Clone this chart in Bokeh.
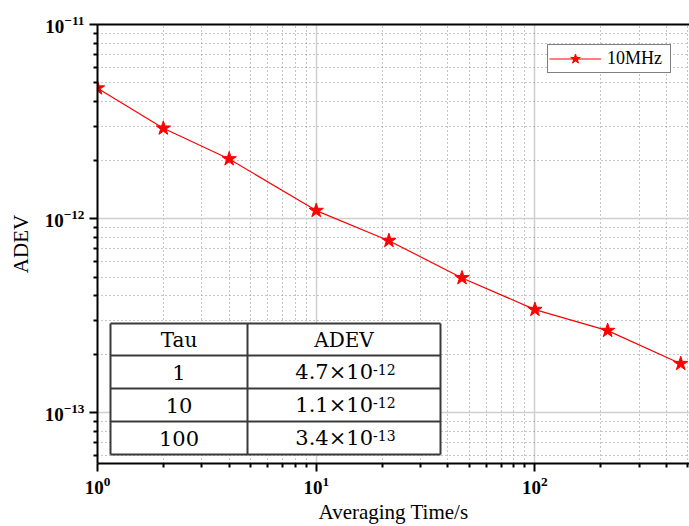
import numpy as np
from bokeh.plotting import figure
from bokeh.models import FixedTicker, LogAxis, Legend, LegendItem
from bokeh.core.properties import value
from bokeh.embed import file_html
from bokeh.resources import INLINE

# Allan deviation of the 10 MHz output against averaging time
tau = [1, 2, 4, 10, 21.5, 46.4, 100, 215, 464]
adev = [4.7e-12, 2.92e-12, 2.03e-12, 1.1e-12, 7.7e-13, 4.95e-13, 3.4e-13, 2.65e-13, 1.79e-13]
series_name = "10MHz"

# axis ticks
x_major = [1, 10, 100]
x_minor = [m * 10 ** k for k in range(0, 3) for m in range(2, 10)]
y_major = [1e-13, 1e-12, 1e-11]
y_minor = [m * 10.0 ** k for k in (-14, -13, -12) for m in range(2, 10)]

# summary table
table_header = ["Tau", "ADEV"]
table_tau = [1, 10, 100]

X_RANGE = (1, 509)
Y_RANGE = (5.48e-14, 1e-11)

W, H = 689, 526
BORDER_L, BORDER_R, BORDER_T, BORDER_B = 97, 0, 24, 63
FRAME_W = W - BORDER_L - BORDER_R
FRAME_H = H - BORDER_T - BORDER_B

SERIF = "Liberation Serif"
TABLE_FONT = "DejaVu Serif"


def px_x(px):
    """Canvas pixel column -> data x on the log axis."""
    lo, hi = np.log10(X_RANGE)
    return 10 ** (lo + (hi - lo) * (px - BORDER_L) / FRAME_W)


def px_y(py):
    """Canvas pixel row -> data y on the log axis."""
    lo, hi = np.log10(Y_RANGE)
    return 10 ** (hi - (hi - lo) * (py - BORDER_T) / FRAME_H)


p = figure(width=W, height=H, x_axis_type="log", y_axis_type="log",
           x_range=X_RANGE, y_range=Y_RANGE,
           output_backend="svg", toolbar_location=None,
           min_border_left=BORDER_L, min_border_right=BORDER_R,
           min_border_top=BORDER_T, min_border_bottom=BORDER_B)
p.outline_line_color = None
p.background_fill_color = "white"
p.border_fill_color = "white"

xt = FixedTicker(ticks=x_major, minor_ticks=x_minor)
yt = FixedTicker(ticks=y_major, minor_ticks=y_minor)
p.xaxis.ticker = xt
p.yaxis.ticker = yt
p.xgrid.ticker = xt
p.ygrid.ticker = yt

for ax in (p.xaxis[0], p.yaxis[0]):
    ax.axis_line_width = 2
    ax.major_tick_line_width = 2
    ax.minor_tick_line_width = 2
    ax.major_tick_in = 0
    ax.major_tick_out = 8
    ax.minor_tick_in = 0
    ax.minor_tick_out = 4
    ax.major_label_text_font = SERIF
    ax.major_label_text_font_style = "bold"
    ax.major_label_text_font_size = "19px"
    ax.major_label_text_color = "black"
    ax.major_label_standoff = 5
    ax.axis_label_text_font = SERIF
    ax.axis_label_text_font_style = "normal"
    ax.axis_label_text_font_size = "21px"
    ax.axis_label_text_color = "black"

p.xaxis.axis_label = "Averaging Time/s"
p.yaxis.axis_label = "ADEV"
p.xaxis.axis_label_standoff = 3
p.yaxis.axis_label_standoff = 9

top = LogAxis(ticker=FixedTicker(ticks=[]), axis_line_width=2,
              major_tick_line_color=None, minor_tick_line_color=None,
              major_label_text_font_size="0px", major_label_standoff=0)
p.add_layout(top, "above")

for g in (p.xgrid[0], p.ygrid[0]):
    g.grid_line_color = "#cfcfcf"
    g.grid_line_width = 1.5
    g.minor_grid_line_color = "#8c8c8c"
    g.minor_grid_line_width = 1
    g.minor_grid_line_dash = "1 3"

# ---- summary table (white cells over the grid) ----
tx0, tx1, tsplit = 110, 440, 247
row_edges = [323, 355, 388, 421, 454]
p.quad(left=[px_x(tx0)], right=[px_x(tx1)], top=[px_y(row_edges[0])],
       bottom=[px_y(row_edges[-1])], fill_color="white", line_color=None)
hx0 = [px_x(tx0)] * len(row_edges)
hx1 = [px_x(tx1)] * len(row_edges)
hy = [px_y(r) for r in row_edges]
p.segment(x0=hx0, y0=hy, x1=hx1, y1=hy, line_color="#3a3a3a", line_width=2)
vx = [px_x(tx0), px_x(tsplit), px_x(tx1)]
p.segment(x0=vx, y0=[px_y(row_edges[0])] * 3, x1=vx, y1=[px_y(row_edges[-1])] * 3,
          line_color="#3a3a3a", line_width=2)

col1_c = (tx0 + tsplit) / 2
col2_c = (tsplit + tx1) / 2
row_c = [(row_edges[i] + row_edges[i + 1]) / 2 for i in range(len(row_edges) - 1)]

row_adev = [adev[tau.index(t)] for t in table_tau]
row_exp = [int(np.floor(np.log10(a))) for a in row_adev]
row_mant = [a / 10.0 ** e for a, e in zip(row_adev, row_exp)]
base_txt = [f"{m:.1f}×10" for m in row_mant]
exp_txt = [f"{e}" for e in row_exp]

# header
p.text(x=[px_x(col1_c), px_x(col2_c)], y=[px_y(row_c[0])] * 2, text=table_header,
       text_font=value(TABLE_FONT), text_font_size="20px", text_align="center",
       text_baseline="middle", text_color="black")
# tau column
p.text(x=[px_x(col1_c)] * len(table_tau), y=[px_y(c) for c in row_c[1:]],
       text=[str(t) for t in table_tau], text_font=value(TABLE_FONT),
       text_font_size="21px", text_align="center", text_baseline="middle",
       text_color="black")
# ADEV column: mantissa x 10 plus raised exponent
anchor = px_x(col2_c + 29)
p.text(x=[anchor] * len(base_txt), y=[px_y(c) for c in row_c[1:]], text=base_txt,
       text_font=value(TABLE_FONT), text_font_size="21px", text_align="right",
       text_baseline="middle", text_color="black")
p.text(x=[anchor] * len(exp_txt), y=[px_y(c - 3) for c in row_c[1:]], text=exp_txt,
       text_font=value(TABLE_FONT), text_font_size="14px", text_align="left",
       text_baseline="middle", text_color="black")

# ---- data ----
line_r = p.line(tau, adev, line_color="#ff0000", line_width=1.2)
star_r = p.scatter(tau, adev, marker="star", size=15, fill_color="#ff0000",
                   line_color="#ff0000")

legend = Legend(items=[LegendItem(label=series_name, renderers=[line_r, star_r])],
                location=(450, 390))
legend.border_line_color = "black"
legend.border_line_width = 1
legend.background_fill_color = "white"
legend.background_fill_alpha = 1
legend.label_text_font = SERIF
legend.label_text_font_size = "18px"
legend.label_text_color = "black"
legend.glyph_width = 52
legend.glyph_height = 25
legend.label_height = 25
legend.label_width = 62
legend.label_standoff = 6
legend.padding = 1
legend.margin = 0
legend.spacing = 0
p.add_layout(legend, "center")

open("out.html", "w").write(file_html(p, INLINE))
